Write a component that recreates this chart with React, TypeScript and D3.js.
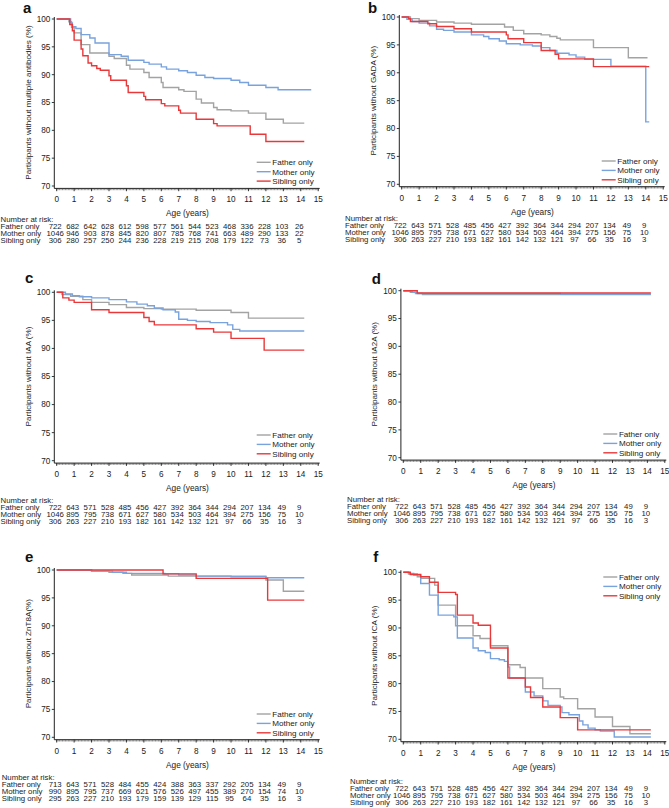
import React from "react";
import * as d3 from "d3";

// ---------- data ----------
const xTicks = [0, 1, 2, 3, 4, 5, 6, 7, 8, 9, 10, 11, 12, 13, 14, 15];
const yTicks = [70, 75, 80, 85, 90, 95, 100];
const seriesNames = ["Father only", "Mother only", "Sibling only"];
const panelLetters = ["a", "b", "c", "d", "e", "f"];
const yTitles = [
  "Participants without multiple antibodies (%)",
  "Participants without GADA (%)",
  "Participants without IAA (%)",
  "Participants without IA2A (%)",
  "Participants without ZnT8A(%)",
  "Participants without ICA (%)",
];

const aFather = [[0,100],[0.7,99.5],[0.85,98.5],[1.0,97.5],[1.4,95.4],[1.9,93.9],[3.0,93.3],[3.3,92.9],[4.0,91.7],[4.2,91.0],[5.0,90.4],[5.3,89.5],[6.0,88.6],[6.1,87.7],[7.0,87.3],[7.3,87.0],[8.0,85.6],[8.3,84.9],[9.0,84.1],[9.2,83.7],[10.0,83.5],[11.0,83.1],[12.0,82.0],[13.0,81.3],[14.2,81.3]];
const aMother = [[0,100],[0.8,99.3],[0.9,98.6],[1.1,98.3],[1.4,97.2],[1.9,96.6],[2.2,95.7],[3.0,93.6],[3.7,93.3],[4.1,92.6],[5.0,92.2],[5.3,91.9],[6.0,91.4],[6.3,91.0],[7.0,90.7],[7.5,90.4],[8.0,89.9],[8.5,89.5],[9.0,89.3],[10.0,89.0],[10.5,88.6],[11.0,88.1],[12.0,87.7],[12.7,87.3],[14.6,87.3]];
const aSibling = [[0,100],[0.75,99.0],[0.9,97.9],[1.0,96.2],[1.4,94.6],[1.5,93.4],[1.8,92.1],[2.0,91.6],[2.3,91.1],[2.5,90.8],[3.0,89.8],[3.1,89.0],[4.0,88.0],[4.1,86.8],[5.0,86.1],[5.1,85.5],[6.0,84.8],[6.2,84.4],[7.0,83.6],[7.1,83.1],[8.0,82.0],[9.0,81.2],[9.2,80.8],[11.1,79.3],[12.0,78.0],[14.2,78.0]];

const bFather = [[0,100],[0.5,99.7],[1.0,99.4],[2.0,99.1],[3.0,98.9],[4.0,98.7],[5.9,98.2],[6.4,97.6],[7.0,97.0],[8.0,96.8],[8.5,96.5],[8.9,96.2],[9.1,95.9],[11.0,94.5],[13.0,92.7],[14.1,92.7]];
const bMother = [[0,100],[0.3,99.6],[0.6,99.2],[1.0,98.9],[1.6,98.4],[2.0,97.8],[2.4,97.6],[3.0,97.3],[4.0,96.8],[4.7,96.5],[5.0,96.1],[5.6,95.7],[6.0,95.2],[6.8,95.0],[7.5,94.8],[8.0,94.5],[8.5,94.0],[8.9,93.5],[9.6,93.2],[10.0,92.8],[10.5,92.4],[12.0,91.2],[14.0,81.2],[14.2,81.2]];
const bSibling = [[0,100],[0.4,99.7],[0.5,99.2],[1.5,98.8],[2.0,98.3],[3.0,97.9],[4.0,97.3],[6.0,96.8],[6.1,96.1],[7.0,95.4],[8.0,94.0],[8.8,93.3],[9.0,92.5],[11.0,91.1],[14.2,91.1]];

const cFather = [[0,100],[0.3,99.6],[0.8,99.3],[1.5,98.7],[2.0,98.2],[3.0,97.8],[4.0,97.3],[5.0,97.1],[6.0,97.0],[8.0,96.8],[10.0,96.4],[11.0,95.4],[14.2,95.4]];
const cMother = [[0,100],[0.5,99.7],[0.9,99.4],[1.3,99.2],[2.0,99.0],[3.0,98.7],[4.0,98.3],[4.6,97.9],[5.2,97.6],[5.6,97.2],[6.1,96.9],[6.8,96.5],[7.0,95.2],[7.5,95.0],[8.0,94.8],[8.8,94.6],[9.8,94.2],[10.1,93.4],[10.5,93.1],[14.2,93.1]];
const cSibling = [[0,100],[0.35,99.0],[0.7,98.6],[1.0,98.2],[2.0,96.9],[3.0,96.4],[5.0,95.5],[5.3,94.8],[5.6,94.2],[8.0,93.5],[9.0,92.9],[10.0,91.8],[11.9,89.7],[14.2,89.7]];

const dFather = [[0,100],[0.4,99.7],[0.7,99.5],[1.1,99.3],[14.2,99.3]];
const dMother = [[0,100],[0.5,99.7],[0.8,99.5],[9.0,99.35],[14.2,99.35]];
const dSibling = [[0,100],[0.8,99.6],[14.2,99.6]];

const eFather = [[0,100],[2.0,99.8],[3.0,99.6],[3.8,99.4],[4.3,99.1],[6.4,98.9],[12.0,98.2],[13.0,96.2],[14.2,96.2]];
const eMother = [[0,100],[2.0,99.8],[3.2,99.6],[4.0,99.4],[6.2,99.3],[7.0,99.1],[8.0,98.9],[10.0,98.8],[12.0,98.6],[14.2,98.6]];
const eSibling = [[0,100],[6.1,99.3],[8.0,98.5],[12.1,94.6],[14.2,94.6]];

const fFather = [[0,100],[0.3,99.7],[0.8,99.2],[1.0,98.9],[1.8,97.7],[2.0,94.1],[3.0,90.4],[4.0,88.6],[4.4,88.1],[5.0,86.8],[6.0,83.4],[6.7,82.9],[7.0,81.0],[8.0,79.1],[9.0,77.6],[9.2,77.3],[10.0,75.5],[11.0,74.0],[12.0,72.3],[13.0,71.0],[14.2,71.0]];
const fMother = [[0,100],[0.3,99.8],[0.6,99.5],[1.0,98.0],[1.5,95.9],[2.0,92.3],[2.9,92.0],[3.1,88.2],[4.0,86.4],[4.3,85.9],[4.7,85.6],[5.0,84.5],[5.5,84.3],[5.8,84.0],[6.0,83.0],[6.1,81.0],[7.0,78.5],[7.5,77.8],[8.0,76.9],[8.3,76.1],[9.0,75.8],[9.1,74.8],[9.5,74.4],[10.1,73.3],[10.3,72.6],[10.6,72.0],[11.0,71.7],[11.3,71.5],[12.1,70.4],[14.2,70.4]];
const fSibling = [[0,100],[0.4,99.6],[1.0,99.2],[1.5,98.2],[2.0,96.4],[3.0,96.0],[3.1,92.3],[4.0,90.9],[4.3,90.5],[5.0,86.4],[6.0,81.0],[7.0,79.4],[7.3,77.5],[8.0,75.8],[9.0,73.9],[10.0,71.7],[14.2,71.7]];

const riskAFather = [722,682,642,628,612,598,577,561,544,523,468,336,228,103,26];
const riskAMother = [1046,946,903,878,845,820,807,785,768,741,663,489,290,133,22];
const riskASibling = [306,280,257,250,244,236,228,219,215,208,179,122,73,36,5];
const riskFather = [722,643,571,528,485,456,427,392,364,344,294,207,134,49,9];
const riskMother = [1046,895,795,738,671,627,580,534,503,464,394,275,156,75,10];
const riskSibling = [306,263,227,210,193,182,161,142,132,121,97,66,35,16,3];
const riskEFather = [713,643,571,528,484,455,424,388,363,337,292,205,134,49,9];
const riskEMother = [990,895,795,737,669,621,576,526,497,455,389,270,154,74,10];
const riskESibling = [295,263,227,210,193,179,159,139,129,115,95,64,35,16,3];

const panelSeries = [
  [aFather, aMother, aSibling],
  [bFather, bMother, bSibling],
  [cFather, cMother, cSibling],
  [dFather, dMother, dSibling],
  [eFather, eMother, eSibling],
  [fFather, fMother, fSibling],
];
const panelRisk = [
  [riskAFather, riskAMother, riskASibling],
  [riskFather, riskMother, riskSibling],
  [riskFather, riskMother, riskSibling],
  [riskFather, riskMother, riskSibling],
  [riskEFather, riskEMother, riskESibling],
  [riskFather, riskMother, riskSibling],
];

// ---------- layout / style ----------
const COLORS = ["#a3a3a3", "#79a3dd", "#e8383a"];
const FONT = "'Liberation Sans', Arial, sans-serif";
const PLOT_W = 261.5;
const ROW = 7.1;
const TFS = 7.8;
const layouts = [
  { x0: 56.7, y100: 19, y70: 186, lx: 23, ly: 12.7, tx: 0.5, ty: 219, legY: 162.3 },
  { x0: 401.7, y100: 17, y70: 184.3, lx: 368, ly: 13.3, tx: 345, ty: 218.3, legY: 161 },
  { x0: 56.7, y100: 292.3, y70: 460.7, lx: 25, ly: 283.3, tx: 0.5, ty: 500, legY: 435 },
  { x0: 403.3, y100: 290.7, y70: 457.7, lx: 371.7, ly: 284, tx: 347, ty: 499.3, legY: 434 },
  { x0: 56.7, y100: 570, y70: 737.3, lx: 25, ly: 562.3, tx: 1.7, ty: 777.3, legY: 714 },
  { x0: 403.3, y100: 572.3, y70: 739.3, lx: 373.3, ly: 562.3, tx: 350, ty: 781, legY: 577 },
];

function Panel({ idx }: { idx: number }) {
  const L = layouts[idx];
  const x = d3.scaleLinear().domain([0, 15]).range([L.x0, L.x0 + PLOT_W]);
  const y = d3.scaleLinear().domain([70, 100]).range([L.y70, L.y100]);
  const axX = L.x0 - 2.4;
  const axY = L.y70 + 2.4;
  const line = d3
    .line<number[]>()
    .x((d) => x(d[0]))
    .y((d) => y(d[1]))
    .curve(d3.curveStepAfter);
  const minor = d3.range(0, 15 * 12 + 1).map((m) => m / 12);
  const series = panelSeries[idx];
  const risk = panelRisk[idx];
  const midY = (L.y100 + L.y70) / 2;
  return (
    <g>
      <text x={L.lx} y={L.ly} fontSize={15} fontWeight="bold" fill="#111">
        {panelLetters[idx]}
      </text>
      {/* axes */}
      <line x1={axX} x2={axX} y1={L.y100 - 2} y2={axY} stroke="#222" strokeWidth={1} />
      <line x1={axX} x2={x(15) + 1.5} y1={axY} y2={axY} stroke="#222" strokeWidth={1} />
      {minor.map((m, i) => (
        <line key={"m" + i} x1={x(m)} x2={x(m)} y1={axY} y2={axY + 1.8} stroke="#444" strokeWidth={0.6} />
      ))}
      {xTicks.map((t) => (
        <g key={"x" + t}>
          <line x1={x(t)} x2={x(t)} y1={axY} y2={axY + 2.8} stroke="#222" strokeWidth={0.9} />
          <text x={x(t)} y={L.y70 + 16.3} fontSize={8.2} textAnchor="middle" fill="#222">
            {t}
          </text>
        </g>
      ))}
      {yTicks.map((t) => (
        <g key={"y" + t}>
          <line x1={axX - 2.5} x2={axX} y1={y(t)} y2={y(t)} stroke="#222" strokeWidth={0.9} />
          <text x={axX - 4} y={y(t) + 2.9} fontSize={8.2} textAnchor="end" fill="#222">
            {t}
          </text>
        </g>
      ))}
      <text x={x(7.5)} y={L.y70 + 30.3} fontSize={8.3} textAnchor="middle" fill="#222">
        Age (years)
      </text>
      <text
        transform={`translate(${L.x0 - 29},${midY}) rotate(-90)`}
        fontSize={8.1}
        textAnchor="middle"
        dy="0.35em"
        fill="#222"
      >
        {yTitles[idx]}
      </text>
      {/* curves */}
      {series.map((s, i) => (
        <path key={"s" + i} d={line(s) || ""} fill="none" stroke={COLORS[i]} strokeWidth={1.4} />
      ))}
      {/* legend */}
      {seriesNames.map((n, i) => (
        <g key={"l" + i}>
          <line
            x1={L.x0 + 200}
            x2={L.x0 + 214}
            y1={L.legY + i * 9.4}
            y2={L.legY + i * 9.4}
            stroke={COLORS[i]}
            strokeWidth={1.4}
          />
          <text x={L.x0 + 215.6} y={L.legY + i * 9.4 + 2.9} fontSize={8.1} fill="#222">
            {n}
          </text>
        </g>
      ))}
      {/* risk table */}
      <text x={L.tx} y={L.ty + 2.8} fontSize={TFS} fill="#222">
        Number at risk:
      </text>
      {seriesNames.map((n, i) => (
        <g key={"r" + i}>
          <text x={L.tx} y={L.ty + 2.8 + (i + 1) * ROW} fontSize={TFS} fill="#222">
            {n}
          </text>
          {risk[i].map((v, j) => (
            <text
              key={j}
              x={x(j) - 1.5}
              y={L.ty + 2.8 + (i + 1) * ROW}
              fontSize={TFS}
              textAnchor="middle"
              fill="#222"
            >
              {v}
            </text>
          ))}
        </g>
      ))}
    </g>
  );
}

export default function App() {
  return (
    <svg
      width={669}
      height={808}
      style={{ position: "absolute", left: 0, top: 0, background: "#fff", fontFamily: FONT }}
      fontFamily={FONT}
    >
      <rect width={669} height={808} fill="#fff" />
      {layouts.map((_, i) => (
        <Panel key={i} idx={i} />
      ))}
    </svg>
  );
}
